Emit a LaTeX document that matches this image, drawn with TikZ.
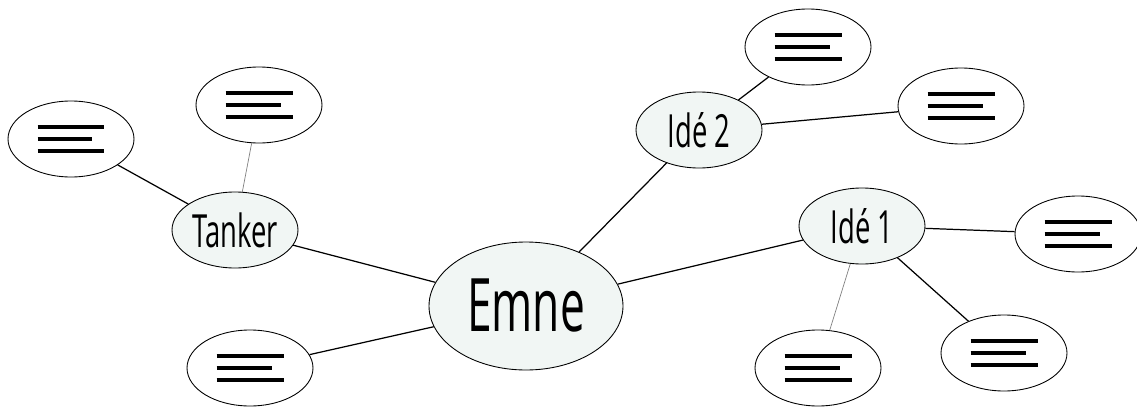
\documentclass[tikz,border=0pt]{standalone}
\usepackage{fontspec}
\usepackage{tikz}
\usetikzlibrary{shapes}

\newfontfamily\handfont[FakeStretch=0.6]{Open Sans}
\definecolor{mindFill}{RGB}{241,246,244}

\newcommand{\noteLines}{\vbox{\hrule width 1.34cm height 2.2pt \vskip 0.16cm
  \hrule width 1.1cm height 2.2pt \vskip 0.16cm
  \hrule width 1.34cm height 2.2pt}}

\begin{document}
\begin{tikzpicture}
      [noteBox/.style={ellipse,draw=black,line width=0.5pt,fill=white,inner sep=0pt,minimum width=2.52cm,minimum height=1.52cm},
       ideaBox/.style={noteBox,fill=mindFill,font=\handfont\fontsize{26}{30}\selectfont},
       topicBox/.style={ideaBox,minimum width=3.88cm,minimum height=2.56cm,font=\handfont\fontsize{42}{46}\selectfont},
       link/.style={draw=black,line width=0.7pt},
       thinLink/.style={draw=gray,line width=0.4pt}]
      \useasboundingbox (0,0) rectangle (22.74,8.16);
      \node[topicBox] (emne) at (10.52,2.04) {Emne};
      \node[ideaBox] (tanker) at (4.70,3.56) {Tanker};
      \node[ideaBox] (ideTwo) at (13.98,5.56) {Idé 2};
      \node[ideaBox] (ideOne) at (17.24,3.64) {Idé 1};
      \node[noteBox] (tankerLeft) at (1.42,5.38) {\noteLines};
      \node[noteBox] (tankerTop) at (5.18,6.06) {\noteLines};
      \node[noteBox] (emneLeft) at (5.00,0.80) {\noteLines};
      \node[noteBox] (ideTwoTop) at (16.16,7.22) {\noteLines};
      \node[noteBox] (ideTwoRight) at (19.22,6.04) {\noteLines};
      \node[noteBox] (ideOneRight) at (21.56,3.48) {\noteLines};
      \node[noteBox] (ideOneBelow) at (16.36,0.80) {\noteLines};
      \node[noteBox] (ideOneCorner) at (20.08,1.10) {\noteLines};
      \draw[link] (emne) -- (tanker);
      \draw[link] (emne) -- (ideTwo);
      \draw[link] (emne) -- (ideOne);
      \draw[link] (emne) -- (emneLeft);
      \draw[link] (tanker) -- (tankerLeft);
      \draw[thinLink] (tanker) -- (tankerTop);
      \draw[link] (ideTwo) -- (ideTwoTop);
      \draw[link] (ideTwo) -- (ideTwoRight);
      \draw[link] (ideOne) -- (ideOneRight);
      \draw[thinLink] (ideOne) -- (ideOneBelow);
      \draw[link] (ideOne) -- (ideOneCorner);
    \end{tikzpicture}
\end{document}
